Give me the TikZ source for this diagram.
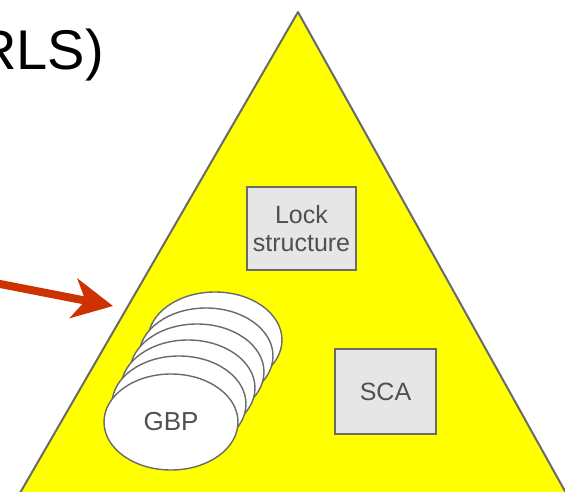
\documentclass[tikz,border=0pt]{standalone}
\usepackage{fontspec}
\setmainfont{Liberation Sans}
\usetikzlibrary{arrows.meta,shapes.geometric}
\definecolor{edgegray}{HTML}{6A6A6A}
\definecolor{boxfill}{HTML}{E6E6E6}
\definecolor{labelgray}{HTML}{505050}
\definecolor{arrowred}{HTML}{CC3300}
\definecolor{cfyellow}{HTML}{FFFF00}
\tikzset{
  cfbox/.style={draw=edgegray, line width=1.5pt, fill=boxfill, inner sep=0pt,
    text=labelgray, align=center},
  bufdisk/.style={draw=edgegray, line width=1.4pt, fill=white},
}
\begin{document}
\begin{tikzpicture}[x=1pt, y=-1pt]
\useasboundingbox (0,0) rectangle (565,492);
\clip (0,0) rectangle (565,492);
\fill[white] (0,0) rectangle (565,492);

% heading fragment
\node[anchor=base east, inner sep=0pt, font=\fontsize{56}{60}\selectfont] (title) at (104,70) {RLS)};

% coupling facility triangle
\draw[edgegray, line width=2pt, fill=cfyellow, line join=round]
  (298,12) -- (566,493) -- (20,493) -- cycle;
\coordinate (apex) at (298,12);

% lock structure and SCA
\node[cfbox, minimum width=109pt, minimum height=83pt,
      font=\fontsize{25}{28}\selectfont] (lock) at (301.5,228.5) {Lock\\structure};
\node[cfbox, minimum width=101pt, minimum height=85pt,
      font=\fontsize{25}{28}\selectfont] (sca) at (385.5,391.5) {SCA};

% stacked group buffer pools
\foreach \i in {5,4,...,1} {
  \draw[bufdisk] ({170+9*\i},{420-16*\i}) ellipse [x radius=67pt, y radius=48pt];
}
\node[bufdisk, ellipse, minimum width=134pt, minimum height=96pt, inner sep=0pt,
      text=labelgray, font=\fontsize{26}{28}\selectfont] (gbp) at (171,422) {GBP};

% pointer arrow
\coordinate (from) at (-5,283);
\coordinate (to) at (113,306);
\draw[arrowred, line width=8pt,
      -{Stealth[length=40pt, width=40pt, inset=12pt]}] (from) -- (to);
\end{tikzpicture}
\end{document}
